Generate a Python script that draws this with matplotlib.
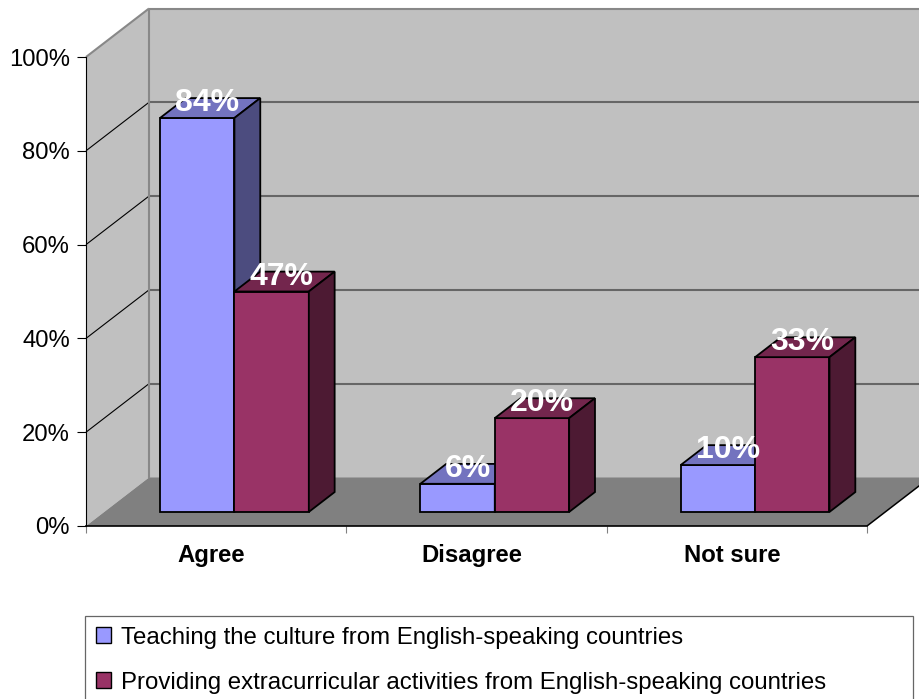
import matplotlib
matplotlib.use("Agg")
import matplotlib.pyplot as plt
from matplotlib.patches import Polygon, Patch
from matplotlib.ticker import PercentFormatter
from matplotlib.transforms import ScaledTranslation

plt.rcParams['font.family'] = ['Liberation Sans', 'DejaVu Sans']

categories = ['Agree', 'Disagree', 'Not sure']
series_names = ['Teaching the culture from English-speaking countries',
                'Providing extracurricular activities from English-speaking countries']
teaching = [0.84, 0.06, 0.10]
providing = [0.47, 0.20, 0.33]

# front / top / side shades for each series
shades = [('#9999FF', '#7373BF', '#4C4C7F'),
          ('#993366', '#73264D', '#4D1A33')]

W, H = 920, 699
fig = plt.figure(figsize=(W / 100, H / 100), dpi=100)
ax = fig.add_axes([86 / W, (H - 526) / H, (867 - 86) / W, (526 - 57) / H])
ax.set_xlim(0, len(categories))
ax.set_ylim(0, 1)
ax.patch.set_visible(False)

# oblique depth: shift in data units for a full step back into the chart
DX = 63 / ((867 - 86) / len(categories))
DY = 48.5 / (526 - 57)


def proj(x, y, d):
    return (x + d * DX, y + d * DY)


def face(pts, fc, ec='none', lw=0, z=1):
    ax.add_patch(Polygon([proj(*p) for p in pts], closed=True, facecolor=fc,
                         edgecolor=ec, linewidth=lw, clip_on=False, zorder=z,
                         joinstyle='miter'))


def line(p0, p1, color, lw, z=1):
    a, b = proj(*p0), proj(*p1)
    ax.plot([a[0], b[0]], [a[1], b[1]], color=color, lw=lw, clip_on=False,
            zorder=z, solid_capstyle='butt')


n = len(categories)
# walls and floor
face([(0, 0, 1), (n, 0, 1), (n, 1, 1), (0, 1, 1)], '#C0C0C0', z=0.5)
face([(0, 0, 0), (0, 0, 1), (0, 1, 1), (0, 1, 0)], '#C0C0C0', z=0.5)
face([(0, 0, 0), (n, 0, 0), (n, 0, 1), (0, 0, 1)], '#808080', z=0.5)

ticks = [0, 0.2, 0.4, 0.6, 0.8, 1.0]
for v in ticks[1:-1]:
    line((0, v, 1), (n, v, 1), '#666666', 1.5, z=0.6)
    line((0, v, 0), (0, v, 1), 'black', 0.8, z=0.6)
line((0, 1, 1), (n, 1, 1), '#888888', 1.5, z=0.6)
line((0, 1, 0), (0, 1, 1), '#888888', 1.5, z=0.6)
line((0, 0, 1), (0, 1, 1), '#888888', 1.5, z=0.6)
line((n, 0, 0), (n, 0, 1), 'black', 1.1, z=0.6)

# 3D bars: gap width 150%, bars set in the middle of the floor depth
bw = 1 / (2 + 1.5)
d0, d1 = 0.29, 0.70
z = 3
for i in range(n):
    for s, vals in enumerate([teaching, providing]):
        v = vals[i]
        x0 = i + 0.75 * bw + s * bw
        x1 = x0 + bw
        fc, tc, sc = shades[s]
        face([(x0, 0, d0), (x1, 0, d0), (x1, v, d0), (x0, v, d0)], fc, 'black', 1.3, z)
        face([(x0, v, d0), (x1, v, d0), (x1, v, d1), (x0, v, d1)], tc, 'black', 1.3, z + 0.1)
        face([(x1, 0, d0), (x1, 0, d1), (x1, v, d1), (x1, v, d0)], sc, 'black', 1.3, z + 0.2)
        z += 1
        cx, cy = proj((x0 + x1) / 2, v, (d0 + d1) / 2)
        ax.annotate(f'{v:.0%}', (cx, cy), xytext=(-2, 3.5), textcoords='offset points',
                    ha='center', va='center', color='white', fontsize=23,
                    fontweight='bold', zorder=50, annotation_clip=False)

# axes
for side in ['top', 'right']:
    ax.spines[side].set_visible(False)
ax.spines['left'].set_linewidth(0.8)
ax.spines['bottom'].set_linewidth(1.2)
ax.spines['left'].set_zorder(2)
ax.spines['bottom'].set_zorder(2)

ax.set_yticks(ticks)
ax.yaxis.set_major_formatter(PercentFormatter(1.0, decimals=0))
ax.tick_params(axis='y', direction='out', length=6.5, width=0.8, pad=5,
               labelsize=17.2, colors='black')

ax.set_xticks([i + 0.5 for i in range(n)])
ax.set_xticklabels(categories, fontsize=17.2, fontweight='bold')
ax.set_xticks(range(n + 1), minor=True)
ax.tick_params(axis='x', which='major', length=0, pad=13)
ax.tick_params(axis='x', which='minor', direction='out', length=5, width=0.8,
               color='#808080')
for lab in ax.get_xticklabels():
    lab.set_transform(lab.get_transform() + ScaledTranslation(-0.045, 0, fig.dpi_scale_trans))

handles = [Patch(facecolor=shades[0][0], edgecolor='black', linewidth=1.0),
           Patch(facecolor=shades[1][0], edgecolor='black', linewidth=1.0)]
leg = fig.legend(handles, series_names, loc='upper left',
                 bbox_to_anchor=(85 / W, 1 - 616 / H, (913 - 85) / W, 0),
                 mode='expand', borderaxespad=0, fontsize=17.3, frameon=True,
                 fancybox=False, edgecolor='#404040', handlelength=0.63,
                 handleheight=0.63, handletextpad=0.4, labelspacing=0.95,
                 borderpad=0.45)
leg.get_frame().set_linewidth(0.9)

fig.savefig('out.png', dpi=100)
